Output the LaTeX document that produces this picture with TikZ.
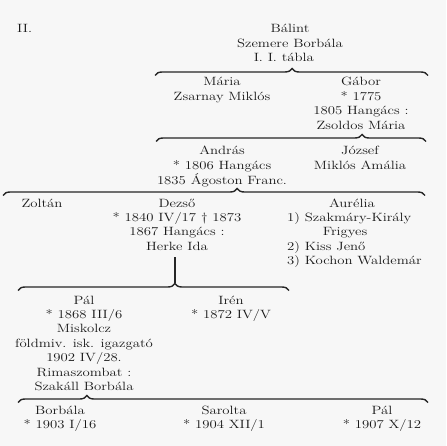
\documentclass[tikz,border=0pt]{standalone}
\usepackage{fontspec}
\usetikzlibrary{decorations.pathreplacing}
\newcommand\gfont{\fontsize{12}{14.4}\selectfont}
\newcommand\stk[1]{\scalebox{1.23}[1]{\begin{tabular}[t]{@{}c@{}}#1\end{tabular}}}
\newcommand\stkl[1]{\scalebox{1.23}[1]{\begin{tabular}[t]{@{}l@{}}#1\end{tabular}}}
\newcommand\bx[1]{\scalebox{1.23}[1]{#1}}
\tikzset{
  txt/.style={inner sep=0pt, anchor=base, font=\gfont, text=black!90},
  brc/.style={decorate, decoration={brace, amplitude=7pt, aspect=#1}, line width=1.4pt, draw=black!85},
  stem/.style={line width=1.6pt, draw=black!85}
}
\begin{document}
\begin{tikzpicture}[x=1pt, y=-1pt]
\fill[white!97!black] (0,0) rectangle (446,446);
\useasboundingbox (0,0) rectangle (446,446);

\node[txt, anchor=base west] (ii) at (17,33) {\bx{II.}};
\node[txt] (balint) at (290,33) {\stk{Bálint\\Szemere Borbála\\I. I. tábla\hspace*{10pt}}};

\coordinate (b1l) at (155,75.5); \coordinate (b1r) at (428,75.5);
\draw[brc=0.502] (b1l) -- (b1r);

\node[txt] (maria) at (222,86) {\stk{Mária\\Zsarnay Miklós}};
\node[txt] (gabor) at (361,86) {\stk{Gábor\\{*} 1775\\1805 Hangács :\\Zsoldos Mária}};

\coordinate (b2l) at (156,141.5); \coordinate (b2r) at (426,141.5);
\draw[brc=0.763] (b2l) -- (b2r);

\node[txt] (andras) at (222,155) {\stk{András\\{*} 1806 Hangács\\1835 Ágoston Franc.}};
\node[txt] (jozsef) at (360,155) {\stk{József\\Miklós Amália}};

\coordinate (b3l) at (3,195.5); \coordinate (b3r) at (425,195.5);
\draw[brc=0.555] (b3l) -- (b3r);

\node[txt] (zoltan) at (42,207) {\bx{Zoltán}};
\node[txt] (dezso) at (177,207) {\stk{Dezső\\{*} 1840 IV/17 † 1873\\1867 Hangács :\\Herke Ida}};
\node[txt, anchor=base west] (aurelia) at (287,207) {\stkl{\hspace*{34pt}Aurélia\\1) Szakmáry-Király\\\hspace*{29pt}Frigyes\\2) Kiss Jenő\\3) Kochon Waldemár}};

\coordinate (v1) at (175,257); \coordinate (v2) at (175,283);
\draw[stem] (v1) -- (v2);

\coordinate (b4l) at (18,290.5); \coordinate (b4r) at (289,290.5);
\draw[brc=0.579] (b4l) -- (b4r);

\node[txt] (pal) at (84,304) {\stk{Pál\\{*} 1868 III/6\\Miskolcz\\földmiv. isk. igazgató\\1902 IV/28.\\Rimaszombat :\\Szakáll Borbála}};
\node[txt] (iren) at (231,304) {\stk{Irén\\{*} 1872 IV/V}};

\coordinate (b5l) at (18,402.5); \coordinate (b5r) at (428,402.5);
\draw[brc=0.168] (b5l) -- (b5r);

\node[txt] (borbala) at (60,414) {\stk{Borbála\\{*} 1903 I/16}};
\node[txt] (sarolta) at (224,414) {\stk{Sarolta\\{*} 1904 XII/1}};
\node[txt] (pal2) at (382,414) {\stk{Pál\\{*} 1907 X/12}};
\end{tikzpicture}
\end{document}
